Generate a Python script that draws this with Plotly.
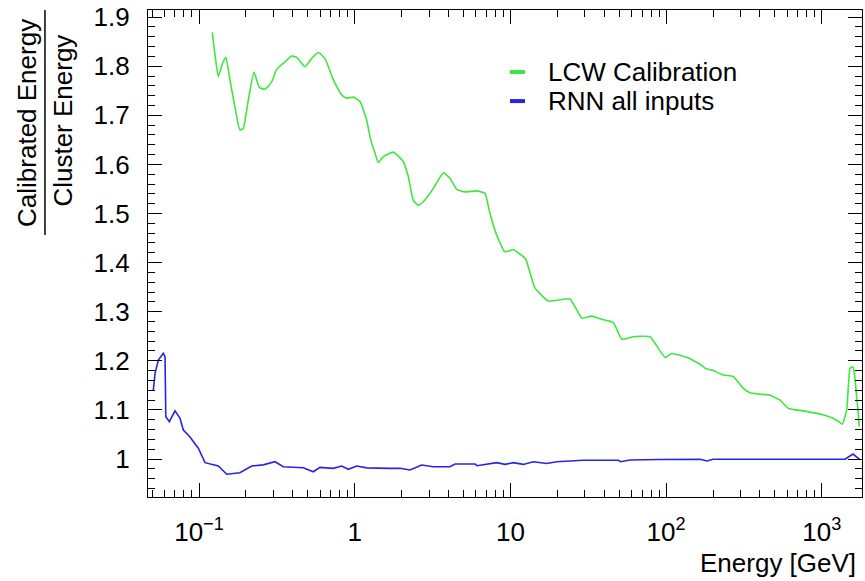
import plotly.graph_objects as go

# ---- data ----
lcw_energy = [0.1217, 0.1267, 0.1330, 0.1419, 0.1490, 0.158, 0.170, 0.183, 0.1925, 0.2073,
              0.2255, 0.2437, 0.2655, 0.293, 0.3155, 0.3565, 0.3935, 0.424, 0.480, 0.530,
              0.583, 0.644, 0.729, 0.825, 0.888, 0.980, 1.082, 1.194, 1.254, 1.349,
              1.418, 1.527, 1.770, 2.052, 2.21, 2.378, 2.562, 2.758, 3.197, 3.707,
              4.093, 4.519, 5.11, 6.075, 6.87, 7.39, 8.17, 9.23, 10.44, 12.41,
              12.73, 14.39, 17.51, 24.15, 28.7, 33.3, 38.6, 45.8, 51.9, 61.5,
              78.8, 98.4, 108.6, 135.6, 165.1, 177.8, 201, 232.9, 270, 313.3,
              345.9, 401, 464.7, 539, 609.5, 760, 1022, 1247, 1354, 1445,
              1517, 1580, 1617, 1675, 1742]
lcw_ratio = [1.869, 1.823, 1.779, 1.806, 1.818, 1.772, 1.717, 1.670, 1.6735, 1.731,
             1.788, 1.757, 1.753, 1.768, 1.794, 1.809, 1.821, 1.818, 1.799, 1.816,
             1.828, 1.816, 1.772, 1.741, 1.735, 1.737, 1.728, 1.690, 1.656, 1.623,
             1.604, 1.616, 1.625, 1.6055, 1.575, 1.527, 1.517, 1.524, 1.551, 1.583,
             1.572, 1.549, 1.544, 1.546, 1.541, 1.500, 1.456, 1.422, 1.426, 1.409,
             1.402, 1.348, 1.322, 1.326, 1.287, 1.291, 1.2845, 1.278, 1.244, 1.249,
             1.249, 1.207, 1.215, 1.207, 1.193, 1.185, 1.180, 1.171, 1.168, 1.144,
             1.135, 1.132, 1.130, 1.120, 1.103, 1.098, 1.090, 1.079, 1.071, 1.100,
             1.185, 1.188, 1.175, 1.127, 1.066]

rnn_energy = [0.0509, 0.0522, 0.0548, 0.0590, 0.0605, 0.0612, 0.0645, 0.0701, 0.0755, 0.0793,
              0.0875, 0.099, 0.1093, 0.133, 0.1507, 0.183, 0.218, 0.259, 0.3076, 0.3478,
              0.4677, 0.542, 0.598, 0.729, 0.825, 0.910, 1.030, 1.194, 1.686, 1.954,
              2.265, 2.69, 3.20, 4.09, 4.41, 5.93, 6.1, 8.17, 9.23, 10.44,
              12.1, 14.03, 17.1, 19.8, 29.4, 49.3, 51.0, 58.6, 90, 165,
              183, 200, 500, 1000, 1409, 1585, 1660, 1750]
rnn_ratio = [1.1405, 1.1745, 1.2016, 1.2153, 1.2083, 1.086, 1.076, 1.098, 1.083, 1.059,
             1.045, 1.022, 0.9925, 0.9857, 0.969, 0.972, 0.9857, 0.988, 0.9945, 0.9843,
             0.9823, 0.974, 0.983, 0.981, 0.9857, 0.979, 0.9857, 0.982, 0.981, 0.981,
             0.9776, 0.9878, 0.9843, 0.9843, 0.9898, 0.9898, 0.9864, 0.9925, 0.989, 0.9925,
             0.989, 0.9945, 0.991, 0.9945, 0.9974, 0.9974, 0.9945, 0.998, 0.999, 0.9995,
             0.996, 0.9995, 0.9995, 0.9995, 0.9995, 1.010, 1.004, 0.999]

series_names = ["LCW Calibration", "RNN all inputs"]
series_colors = ["#3ee83e", "#2626e0"]

x_tickvals = [0.1, 1, 10, 100, 1000]
x_ticktext = ["10<sup>\u22121</sup>", "1", "10", "10<sup>2</sup>", "10<sup>3</sup>"]
x_minor = [m * 10 ** e for e in range(-2, 4) for m in range(2, 10)]

FONT = "Liberation Sans, Arial, Helvetica, sans-serif"

fig = go.Figure()
fig.add_trace(go.Scatter(x=lcw_energy, y=lcw_ratio, mode="lines", name=series_names[0],
                         line=dict(color=series_colors[0], width=1.6, shape="spline", smoothing=0.4),
                         showlegend=False))
fig.add_trace(go.Scatter(x=rnn_energy, y=rnn_ratio, mode="lines", name=series_names[1],
                         line=dict(color=series_colors[1], width=1.6),
                         showlegend=False))

axis_common = dict(showline=True, linecolor="black", linewidth=1.2, mirror="allticks",
                   ticks="inside", ticklen=14, tickwidth=1.2, tickcolor="black",
                   showgrid=False, zeroline=False,
                   tickfont=dict(family=FONT, size=26, color="black"))

fig.update_xaxes(type="log", range=[-1.3276, 3.258],
                 tickmode="array", tickvals=x_tickvals, ticktext=x_ticktext,
                 ticklabelstandoff=12,
                 minor=dict(tickmode="array", tickvals=x_minor, ticks="inside", ticklen=7,
                            tickwidth=1.2, tickcolor="black", showgrid=False),
                 **axis_common)
fig.update_yaxes(range=[0.9226, 1.9145], tickmode="linear", tick0=1.0, dtick=0.1,
                 ticklabelstandoff=12,
                 minor=dict(dtick=0.02, ticks="inside", ticklen=7, tickwidth=1.2,
                            tickcolor="black", showgrid=False),
                 **axis_common)

# manual legend (short thick line + label)
legend_y = [0.8727, 0.813]
for name, color, yy in zip(series_names, series_colors, legend_y):
    fig.add_shape(type="line", xref="paper", yref="paper", x0=0.507, x1=0.528, y0=yy, y1=yy,
                  line=dict(color=color, width=4))
    fig.add_annotation(xref="paper", yref="paper", x=0.5574, y=yy, text=name, showarrow=False,
                       xanchor="left", yanchor="middle",
                       font=dict(family=FONT, size=26, color="black"))

# y-axis title as a fraction
fig.add_annotation(xref="paper", yref="paper", x=-0.1695, y=0.768, text="Calibrated Energy",
                   textangle=-90, showarrow=False, xanchor="center", yanchor="middle",
                   font=dict(family=FONT, size=26, color="black"))
fig.add_annotation(xref="paper", yref="paper", x=-0.119, y=0.773, text="Cluster Energy",
                   textangle=-90, showarrow=False, xanchor="center", yanchor="middle",
                   font=dict(family=FONT, size=26, color="black"))
fig.add_shape(type="line", xref="paper", yref="paper", x0=-0.1443, x1=-0.1443, y0=1.0, y1=0.538,
              line=dict(color="black", width=1.5))

# x-axis title
fig.add_annotation(xref="paper", yref="paper", x=0.994, y=-0.1355, text="Energy [GeV]",
                   showarrow=False, xanchor="right", yanchor="middle",
                   font=dict(family=FONT, size=26, color="black"))

fig.update_layout(width=865, height=581, margin=dict(l=148, r=3, t=10, b=84),
                  paper_bgcolor="white", plot_bgcolor="white")

fig.write_html("out.html")
